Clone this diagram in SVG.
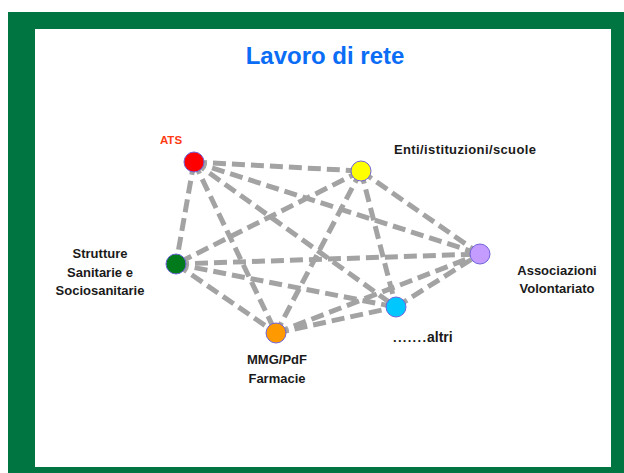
<svg xmlns="http://www.w3.org/2000/svg" width="624" height="473" viewBox="0 0 624 473">
<style>
.edge{stroke:#a3a3a3;stroke-width:5;stroke-dasharray:13 6;fill:none}
.node{stroke:#6f63d9;stroke-width:1}
.lbl{font-family:"Liberation Sans",Arial,sans-serif;font-weight:bold;font-size:13px;fill:#1a1a1a}
</style>
<rect x="0" y="0" width="624" height="473" fill="#ffffff"/>
<rect x="8" y="12" width="616" height="461" fill="#007541"/>
<rect x="35" y="29" width="576" height="438" fill="#ffffff"/>
<text x="325" y="64" text-anchor="middle" font-family="Liberation Sans,Arial,sans-serif" font-weight="bold" font-size="24" fill="#0b6cf5">Lavoro di rete</text>
<g id="connectors">
<line class="edge" x1="194" y1="162" x2="361" y2="171"/>
<line class="edge" x1="194" y1="162" x2="480" y2="254"/>
<line class="edge" x1="194" y1="162" x2="396" y2="307"/>
<line class="edge" x1="194" y1="162" x2="276" y2="333"/>
<line class="edge" x1="194" y1="162" x2="176" y2="264"/>
<line class="edge" x1="361" y1="171" x2="176" y2="264"/>
<line class="edge" x1="361" y1="171" x2="276" y2="333"/>
<line class="edge" x1="361" y1="171" x2="396" y2="307"/>
<line class="edge" x1="361" y1="171" x2="480" y2="254"/>
<line class="edge" x1="176" y1="264" x2="480" y2="254"/>
<line class="edge" x1="176" y1="264" x2="396" y2="307"/>
<line class="edge" x1="176" y1="264" x2="276" y2="333"/>
<line class="edge" x1="276" y1="333" x2="480" y2="254"/>
<line class="edge" x1="276" y1="333" x2="396" y2="307"/>
<line class="edge" x1="396" y1="307" x2="480" y2="254"/>
</g>
<g id="ats">
<circle class="node" cx="194" cy="162" r="10" fill="#ff0000"/>
<text x="171" y="144" text-anchor="middle" font-family="Liberation Sans,Arial,sans-serif" font-weight="bold" font-size="11.5" fill="#ff3c14">ATS</text>
</g>
<g id="enti">
<circle class="node" cx="361" cy="171" r="10" fill="#ffff00"/>
<text class="lbl" x="394" y="154" textLength="142">Enti/istituzioni/scuole</text>
</g>
<g id="strutture">
<circle class="node" cx="176" cy="264" r="10" fill="#007a1a"/>
<text class="lbl" x="100" y="258" text-anchor="middle">Strutture</text>
<text class="lbl" x="100" y="277" text-anchor="middle">Sanitarie e</text>
<text class="lbl" x="100" y="295" text-anchor="middle">Sociosanitarie</text>
</g>
<g id="associazioni">
<circle class="node" cx="480" cy="254" r="10" fill="#c49cff"/>
<text class="lbl" x="557" y="275" text-anchor="middle">Associazioni</text>
<text class="lbl" x="557" y="293" text-anchor="middle">Volontariato</text>
</g>
<g id="altri">
<circle class="node" cx="396" cy="307" r="10" fill="#00c8ff"/>
<text class="lbl" y="342"><tspan x="393" textLength="33">.......</tspan><tspan x="427" style="font-size:14px">altri</tspan></text>
</g>
<g id="mmg">
<circle class="node" cx="276" cy="333" r="10" fill="#ff9900"/>
<text class="lbl" x="277" y="364" text-anchor="middle">MMG/PdF</text>
<text class="lbl" x="277" y="383" text-anchor="middle">Farmacie</text>
</g>
</svg>
